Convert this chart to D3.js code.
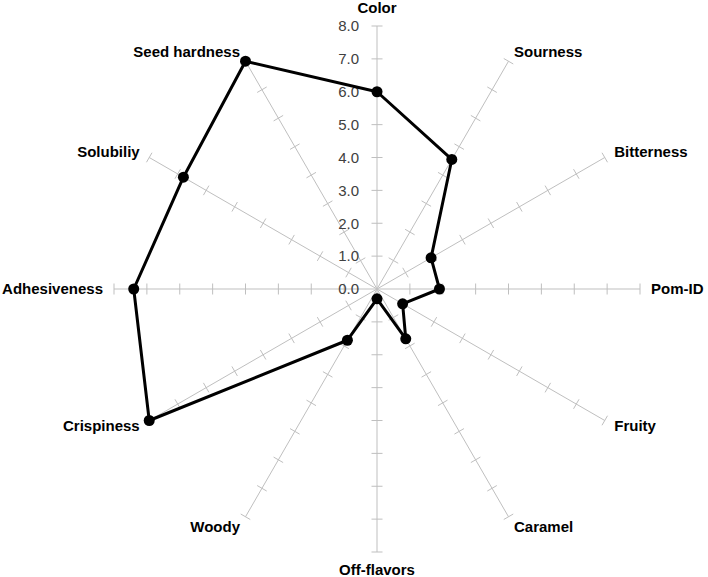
<!DOCTYPE html>
<html>
<head>
<meta charset="utf-8">
<script src="https://cdn.jsdelivr.net/npm/d3@7"></script>
<style>
body { margin: 0; background: #fff; }
svg { display: block; }
</style>
</head>
<body>
<script>
var attributes = ["Color", "Sourness", "Bitterness", "Pom-ID", "Fruity", "Caramel",
	"Off-flavors", "Woody", "Crispiness", "Adhesiveness", "Solubiliy", "Seed hardness"];
var scores = [6.0, 4.55, 1.9, 1.9, 0.9, 1.75, 0.3, 1.8, 8.0, 7.4, 6.8, 8.0];
var tickValues = [0, 1, 2, 3, 4, 5, 6, 7, 8];

var width = 708, height = 577;
var cx = 377, cy = 289;
var axiscolor = "#bfbfbf";
var textcolor = "#404040";

var r = d3.scaleLinear().domain([0, 8]).range([0, 263]);
var step = 2 * Math.PI / attributes.length;

function pt(i, v) {
	var a = i * step;
	return [cx + r(v) * Math.sin(a), cy - r(v) * Math.cos(a)];
}

var svg = d3.select("body")
	.append("svg")
	.attr("width", width)
	.attr("height", height);

// spokes
svg.selectAll(".spoke")
	.data(attributes)
	.enter().append("line")
	.attr("class", "spoke")
	.attr("x1", cx).attr("y1", cy)
	.attr("x2", (d, i) => pt(i, 8)[0])
	.attr("y2", (d, i) => pt(i, 8)[1])
	.style("stroke", axiscolor)
	.style("stroke-width", 1);

// tick marks on every spoke
var tickData = [];
attributes.forEach((d, i) => {
	tickValues.slice(1).forEach(t => tickData.push({ i: i, t: t }));
});
var half = 5.5;
svg.selectAll(".tick")
	.data(tickData)
	.enter().append("line")
	.attr("class", "tick")
	.attr("x1", d => pt(d.i, d.t)[0] - half * Math.cos(d.i * step))
	.attr("y1", d => pt(d.i, d.t)[1] - half * Math.sin(d.i * step))
	.attr("x2", d => pt(d.i, d.t)[0] + half * Math.cos(d.i * step))
	.attr("y2", d => pt(d.i, d.t)[1] + half * Math.sin(d.i * step))
	.style("stroke", axiscolor)
	.style("stroke-width", 1);

// value labels along the first spoke
svg.selectAll(".tlabel")
	.data(tickValues)
	.enter().append("text")
	.attr("class", "tlabel")
	.attr("x", cx - 18)
	.attr("y", d => cy - r(d))
	.attr("dy", "0.35em")
	.attr("text-anchor", "end")
	.attr("font-family", "Liberation Sans, Arial, sans-serif")
	.attr("font-size", "15px")
	.attr("fill", textcolor)
	.text(d => d.toFixed(1));

// category labels
svg.selectAll(".clabel")
	.data(attributes)
	.enter().append("text")
	.attr("class", "clabel")
	.each(function(d, i) {
		var a = i * step;
		var s = Math.sin(a), c = Math.cos(a);
		var p = pt(i, 8);
		var x = p[0] + 11 * s;
		var y = p[1] - 11 * c;
		var anchor = "middle";
		if (s > 0.01) anchor = "start";
		else if (s < -0.01) anchor = "end";
		else y += c > 0 ? -7.5 : 7;
		d3.select(this)
			.attr("x", x)
			.attr("y", y)
			.attr("dy", "0.35em")
			.attr("text-anchor", anchor);
	})
	.attr("font-family", "Liberation Sans, Arial, sans-serif")
	.attr("font-size", "15px")
	.attr("font-weight", "bold")
	.attr("fill", "#000")
	.text(d => d);

// series
var line = d3.line().curve(d3.curveLinearClosed);
svg.append("path")
	.attr("d", line(scores.map((v, i) => pt(i, v))))
	.style("fill", "none")
	.style("stroke", "#000")
	.style("stroke-width", 3)
	.style("stroke-linejoin", "round");

svg.selectAll(".dot")
	.data(scores)
	.enter().append("circle")
	.attr("class", "dot")
	.attr("cx", (d, i) => pt(i, d)[0])
	.attr("cy", (d, i) => pt(i, d)[1])
	.attr("r", 5.5)
	.style("fill", "#000");
</script>
</body>
</html>
